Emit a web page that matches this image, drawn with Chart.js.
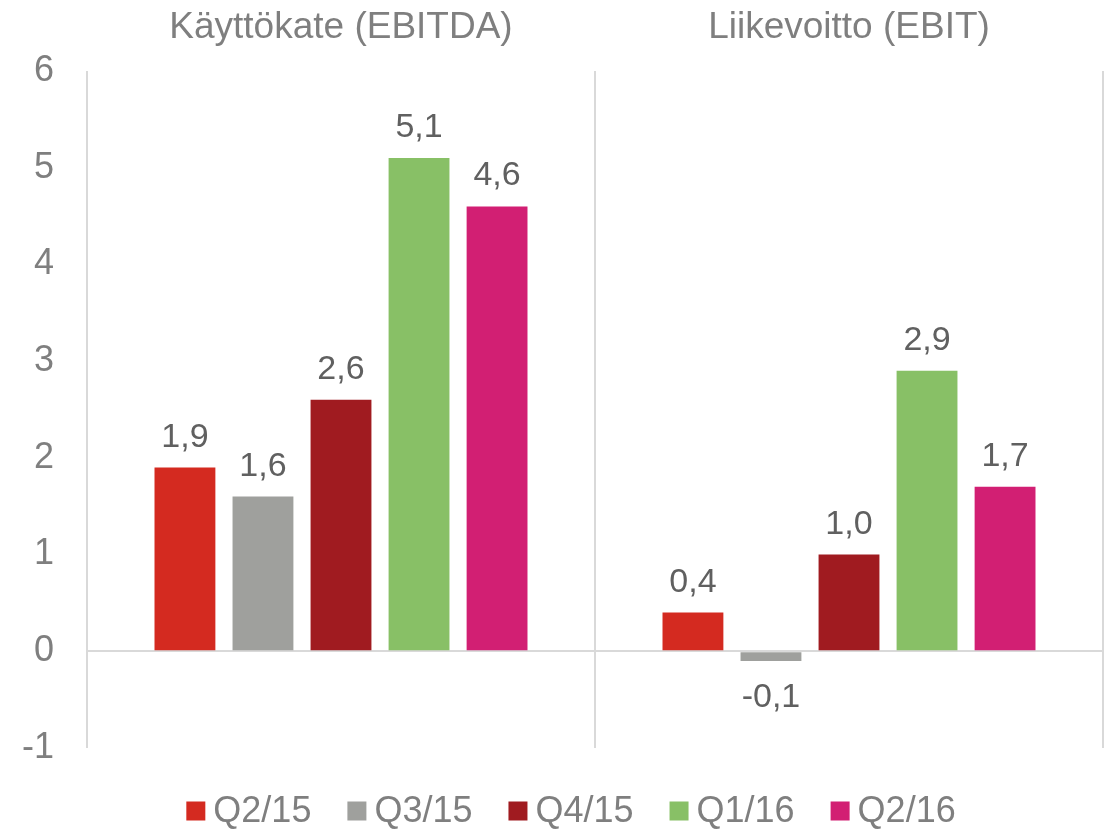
<!DOCTYPE html>
<html>
<head>
<meta charset="utf-8">
<script src="https://cdn.jsdelivr.net/npm/chart.js@4"></script>
<style>
  html, body { margin: 0; padding: 0; background: #fff; }
  #wrap { width: 1110px; height: 832px; }
</style>
</head>
<body>
<div id="wrap"><canvas id="chart" width="1110" height="832"></canvas></div>
<script>
// categories and series
const categories = ["Käyttökate (EBITDA)", "Liikevoitto (EBIT)"];
const seriesNames = ["Q2/15", "Q3/15", "Q4/15", "Q1/16", "Q2/16"];
const q215 = [1.9, 0.4];
const q315 = [1.6, -0.1];
const q415 = [2.6, 1.0];
const q116 = [5.1, 2.9];
const q216 = [4.6, 1.7];
const yTicks = [-1, 0, 1, 2, 3, 4, 5, 6];

const colors = ["#D42A20", "#9FA09D", "#A01B20", "#88C066", "#D21F73"];
const textGray = "#7f7f7f";
const labelGray = "#606060";
const font = "'Liberation Sans', Arial, sans-serif";

const seriesValues = [q215, q315, q415, q116, q216];

// value labels above/below bars, comma as decimal separator
const valueLabels = {
  id: "valueLabels",
  afterDatasetsDraw(chart) {
    const ctx = chart.ctx;
    ctx.save();
    ctx.font = "34px " + font;
    ctx.fillStyle = labelGray;
    ctx.textAlign = "center";
    chart.data.datasets.forEach((ds, i) => {
      const meta = chart.getDatasetMeta(i);
      meta.data.forEach((bar, j) => {
        const v = ds.data[j];
        const txt = v.toFixed(1).replace(".", ",");
        if (v >= 0) {
          ctx.textBaseline = "alphabetic";
          ctx.fillText(txt, bar.x, bar.y - 21);
        } else {
          ctx.textBaseline = "top";
          ctx.fillText(txt, bar.x, bar.y + 20);
        }
      });
    });
    ctx.restore();
  }
};

// legend drawn by hand so the box/text spacing matches the original
const bottomLegend = {
  id: "bottomLegend",
  afterDraw(chart) {
    const ctx = chart.ctx;
    const box = 19, gap = 8, itemGap = 36, cx = 571, cy = 811;
    ctx.save();
    ctx.font = "36px " + font;
    const items = chart.data.datasets.map(ds => ({
      text: ds.label,
      color: ds.backgroundColor,
      w: box + gap + ctx.measureText(ds.label).width
    }));
    const total = items.reduce((s, it) => s + it.w, 0) + itemGap * (items.length - 1);
    let x = cx - total / 2;
    ctx.textBaseline = "middle";
    ctx.textAlign = "left";
    items.forEach(it => {
      ctx.fillStyle = it.color;
      ctx.fillRect(x, cy - box / 2, box, box);
      ctx.fillStyle = textGray;
      ctx.fillText(it.text, x + box + gap, cy + 1);
      x += it.w + itemGap;
    });
    ctx.restore();
  }
};

new Chart(document.getElementById("chart"), {
  type: "bar",
  data: {
    labels: categories,
    datasets: seriesNames.map((name, i) => ({
      label: name,
      data: seriesValues[i],
      backgroundColor: colors[i],
      categoryPercentage: 0.768,
      barPercentage: 0.78
    }))
  },
  options: {
    responsive: false,
    animation: false,
    layout: { padding: { left: 0, right: 7, top: 0, bottom: 84 } },
    plugins: {
      legend: { display: false },
      tooltip: { enabled: false }
    },
    scales: {
      x: {
        position: "top",
        grid: {
          offset: true,
          color: "#d9d9d9",
          lineWidth: 2,
          drawTicks: false
        },
        border: { display: false },
        ticks: {
          color: textGray,
          padding: 21,
          font: { family: font, size: 37 }
        },
        afterFit(scale) { scale.height = 71; }
      },
      y: {
        min: -1,
        max: 6,
        afterBuildTicks(scale) {
          scale.ticks = yTicks.map(v => ({ value: v }));
        },
        grid: {
          drawTicks: false,
          lineWidth: 2,
          color: (c) => (c.tick && c.tick.value === 0 ? "#d9d9d9" : "rgba(0,0,0,0)")
        },
        border: { display: false },
        ticks: {
          color: textGray,
          padding: 33,
          font: { family: font, size: 36 }
        },
        afterFit(scale) { scale.width = 87; }
      }
    }
  },
  plugins: [valueLabels, bottomLegend]
});
</script>
</body>
</html>
